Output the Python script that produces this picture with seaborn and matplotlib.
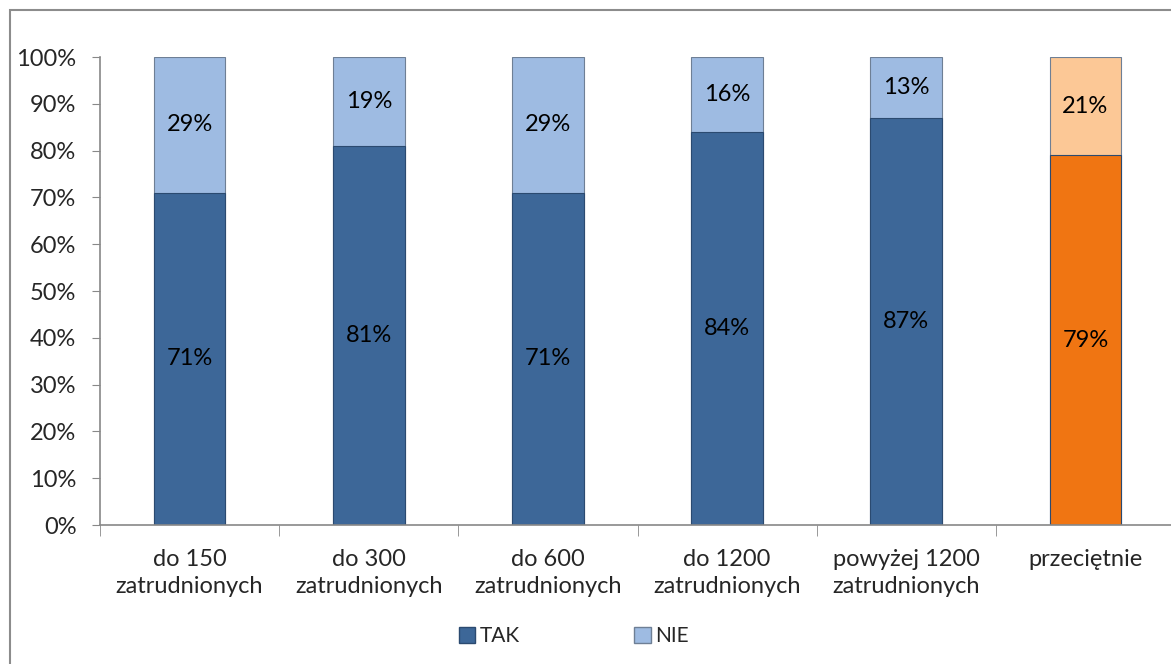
import pandas as pd
import seaborn as sns
import matplotlib.pyplot as plt
from matplotlib.patches import Rectangle, Patch
from matplotlib.ticker import FuncFormatter, FixedLocator

categories = ["do 150\nzatrudnionych", "do 300\nzatrudnionych", "do 600\nzatrudnionych",
              "do 1200\nzatrudnionych", "powyżej 1200\nzatrudnionych", "przeciętnie"]
tak = [71, 81, 71, 84, 87, 79]
nie = [29, 19, 29, 16, 13, 21]

tak_colors = ["#3D6798"] * 5 + ["#F07512"]
nie_colors = ["#9EBBE2"] * 5 + ["#FCC896"]

df = pd.DataFrame({"kat": categories, "TAK": tak, "NIE": nie})
df["suma"] = df["TAK"] + df["NIE"]

sns.set_style("white")
plt.rcParams['font.family'] = ['Lato', 'DejaVu Sans']

fig = plt.figure(figsize=(11.71, 6.64), dpi=100)
ax = fig.add_axes([100 / 1171, 1 - 525 / 664, 1075 / 1171, 468 / 664])

# tło słupków = 100% (NIE), na wierzch TAK
sns.barplot(data=df, x="kat", y="suma", hue="kat", palette=nie_colors, legend=False,
            width=0.4, ax=ax, edgecolor="#6E7F95", linewidth=0.8, saturation=1)
sns.barplot(data=df, x="kat", y="TAK", hue="kat", palette=tak_colors, legend=False,
            width=0.4, ax=ax, edgecolor="#2B4A70", linewidth=0.8, saturation=1)

fs = 17
for i in range(len(categories)):
    ax.text(i, tak[i] / 2, f"{tak[i]}%", ha="center", va="center", fontsize=fs, color="black")
    ax.text(i, tak[i] + nie[i] / 2, f"{nie[i]}%", ha="center", va="center", fontsize=fs, color="black")

ax.set_ylim(0, 100)
ax.set_xlim(-0.5, 5.5)
ax.set_yticks(range(0, 101, 10))
ax.yaxis.set_major_formatter(FuncFormatter(lambda v, p: f"{int(v)}%"))
ax.set_xlabel("")
ax.set_ylabel("")
ax.tick_params(axis="y", labelsize=fs, length=6, color="#888888", direction="out", left=True, pad=11)
ax.tick_params(axis="x", which="major", labelsize=fs, length=0, pad=17)
for lab in ax.get_xticklabels():
    lab.set_linespacing(1.4)
ax.xaxis.set_minor_locator(FixedLocator([x - 0.5 for x in range(7)]))
ax.tick_params(axis="x", which="minor", length=8, color="#888888", direction="out", bottom=True)

for s in ["top", "right"]:
    ax.spines[s].set_visible(False)
for s in ["left", "bottom"]:
    ax.spines[s].set_color("#888888")
    ax.spines[s].set_linewidth(1.2)

handles = [Patch(facecolor="#3D6798", edgecolor="#2B4A70", label="TAK"),
           Patch(facecolor="#9EBBE2", edgecolor="#6E7F95", label="NIE")]
fig.legend(handles=handles, loc="center", bbox_to_anchor=(0.49, 1 - 636 / 664), ncol=2,
           frameon=False, fontsize=15, handlelength=0.8, handleheight=0.8,
           handletextpad=0.2, columnspacing=5.5)

fig.patches.append(Rectangle((10 / 1171, -0.1), 1.2, 1 - 10 / 664 + 0.1, transform=fig.transFigure,
                             fill=False, edgecolor="#8C8C8C", linewidth=1.5))

fig.savefig("out.png", dpi=100)
